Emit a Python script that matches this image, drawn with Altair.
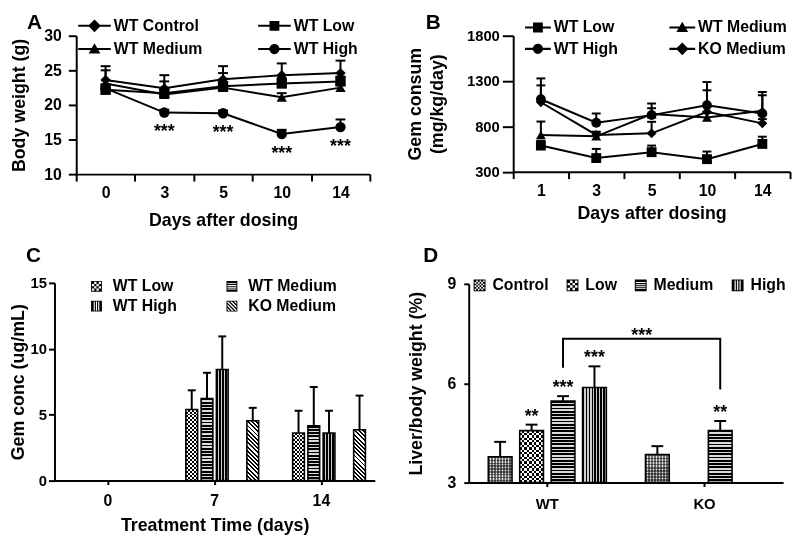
import math
import altair as alt
import pandas as pd

FONT = "Liberation Sans"

# ---------------- Panel A : body weight ----------------
a_days = ["0", "3", "5", "10", "14"]
a_series = ["WT Control", "WT Low", "WT Medium", "WT High"]
a_shapes = ["diamond", "square", "triangle-up", "circle"]
a_control = [23.6, 22.4, 23.7, 24.3, 24.6]
a_control_top = [25.6, 24.3, 25.6, 26.0, 26.4]
a_low = [22.2, 21.7, 22.7, 23.1, 23.4]
a_low_top = [22.9, 22.3, 23.3, 23.9, 24.1]
a_medium = [23.1, 21.5, 22.5, 21.1, 22.5]
a_medium_top = [25.0, 23.4, 24.6, 21.7, 23.0]
a_high = [22.4, 18.9, 18.8, 15.8, 16.8]
a_high_top = [23.0, 19.3, 19.2, 16.4, 17.9]
a_star_days = ["3", "5", "10", "14"]
a_star_at = [18.9, 18.8, 15.8, 16.8]

# ---------------- Panel B : gemfibrozil consumption ----------------
b_days = ["1", "3", "5", "10", "14"]
b_series = ["WT Low", "WT Medium", "WT High", "KO Medium"]
b_shapes = ["square", "triangle-up", "circle", "diamond"]
b_low = [588, 450, 515, 438, 606]
b_low_top = [640, 551, 588, 522, 686]
b_medium = [705, 690, 935, 898, 971]
b_medium_top = [853, 741, 1000, 950, 1143]
b_high = [1099, 840, 924, 1033, 942]
b_high_top = [1329, 942, 1052, 1289, 1179]
b_ko = [1066, 705, 723, 960, 833]
b_ko_top = [1252, 730, 850, 1198, 880]

# ---------------- Panel C : plasma concentration ----------------
c_days = ["0", "7", "14"]
c_series = ["WT Low", "WT Medium", "WT High", "KO Medium"]
c_slots = ["gap-a", "WT Low", "WT Medium", "WT High", "gap-b", "KO Medium"]
c_bar_days = ["7", "7", "7", "7", "14", "14", "14", "14"]
c_bar_series = ["WT Low", "WT Medium", "WT High", "KO Medium"] * 2
c_vals = [5.39, 6.22, 8.43, 4.54, 3.61, 4.16, 3.61, 3.86]
c_errs = [6.85, 8.18, 10.94, 5.52, 5.30, 7.10, 5.30, 6.45]

# ---------------- Panel D : liver / body weight ----------------
d_groups = ["WT", "KO"]
d_series = ["Control", "Low", "Medium", "High"]
d_bar_groups = ["WT", "WT", "WT", "WT", "KO", "KO"]
d_bar_series = ["Control", "Low", "Medium", "High", "Control", "Medium"]
d_vals = [3.78, 4.57, 5.46, 5.87, 3.85, 4.57]
d_errs = [4.23, 4.75, 5.61, 6.51, 4.10, 4.86]
d_star_groups = ["WT", "WT", "WT", "KO"]
d_star_series = ["Low", "Medium", "High", "Medium"]
d_star_text = ["**", "***", "***", "**"]
d_bracket_groups = ["WT", "WT", "KO", "KO"]
d_bracket_y = [6.47, 7.34, 7.34, 5.81]
d_bracket_text = "***"


# ---------------- symbol paths (legend glyphs) ----------------
def rect(x0, y0, x1, y1):
    return f"M{x0:.3f},{y0:.3f}H{x1:.3f}V{y1:.3f}H{x0:.3f}Z"


FT = 0.17


def frame_path():
    return (rect(-1, -1, 1, -1 + FT) + rect(-1, 1 - FT, 1, 1)
            + rect(-1, -1 + FT, -1 + FT, 1 - FT) + rect(1 - FT, -1 + FT, 1, 1 - FT))


def stripe_edges(n_gaps, gap_w):
    lo, hi = -1 + FT, 1 - FT
    L = hi - lo
    cs = [lo + L * (j + 1) / (n_gaps + 1) for j in range(n_gaps)]
    e = [lo]
    for c in cs:
        e += [c - gap_w / 2, c + gap_w / 2]
    e.append(hi)
    return [(e[j], e[j + 1]) for j in range(0, len(e), 2)]


def sym_vstripes():
    lo, hi = -1 + FT, 1 - FT
    return frame_path() + "".join(rect(a, lo, b, hi) for a, b in stripe_edges(3, 0.2))


def sym_hstripes():
    lo, hi = -1 + FT, 1 - FT
    return frame_path() + "".join(rect(lo, a, hi, b) for a, b in stripe_edges(4, 0.16))


def sym_checker(n):
    lo, hi = -1 + FT, 1 - FT
    c = (hi - lo) / n
    p = frame_path()
    for i in range(n):
        for j in range(n):
            if (i + j) % 2 == 0:
                p += rect(lo + i * c, lo + j * c, lo + (i + 1) * c, lo + (j + 1) * c)
    return p


def clip_poly(poly, f):
    out = []
    for idx in range(len(poly)):
        p, q = poly[idx], poly[(idx + 1) % len(poly)]
        fp, fq = f(p), f(q)
        if fp >= 0:
            out.append(p)
        if (fp >= 0) != (fq >= 0):
            t = fp / (fp - fq)
            out.append((p[0] + t * (q[0] - p[0]), p[1] + t * (q[1] - p[1])))
    return out


def sym_diag(nb=5, frac=0.5):
    s = 1 - FT
    sq = [(-s, -s), (s, -s), (s, s), (-s, s)]
    P = 4 * s / nb
    p = frame_path()
    for j in range(nb + 1):
        c0 = -2 * s + j * P - P * frac / 2
        c1 = c0 + P * frac
        poly = clip_poly(sq, lambda q, c0=c0: (q[0] - q[1]) - c0)
        poly = clip_poly(poly, lambda q, c1=c1: c1 - (q[0] - q[1]))
        if len(poly) >= 3:
            p += "M" + "L".join(f"{x:.3f},{y:.3f}" for x, y in poly) + "Z"
    return p


def sym_line(marker, half):
    t = 0.13
    p = rect(-half, -t, half, t)
    r = {"diamond": 0.8, "square": 0.62, "triangle-up": 0.74, "circle": 0.64}[marker]
    if marker == "diamond":
        p += f"M0,{-r}L{r},0L0,{r}L{-r},0Z"
    elif marker == "square":
        p += rect(-r, -r, r, r)
    elif marker == "triangle-up":
        p += f"M0,{-r}L{r},{r * 0.75}L{-r},{r * 0.75}Z"
    else:
        p += f"M{-r},0A{r},{r} 0 1,1 {r},0A{r},{r} 0 1,1 {-r},0Z"
    return p


# ---------------- gradient fills (bar textures) ----------------
def stripe_grad(n, frac, c1, c2, horizontal_lines):
    n = max(1, int(round(n)))
    stops = []
    for i in range(n):
        a, b, c = i / n, (i + frac) / n, (i + 1) / n
        stops += [{"offset": round(a, 5), "color": c1}, {"offset": round(b, 5), "color": c1},
                  {"offset": round(b, 5), "color": c2}, {"offset": round(c, 5), "color": c2}]
    if horizontal_lines:
        return {"gradient": "linear", "x1": 0, "y1": 0, "x2": 0, "y2": 1, "stops": stops}
    return {"gradient": "linear", "x1": 0, "y1": 0, "x2": 1, "y2": 0, "stops": stops}


def diag_grad(w, h, period, frac, c1, c2):
    k = (w + h) / (w * w + h * h)
    g = stripe_grad((w + h) / math.sqrt(2) / period, frac, c1, c2, True)
    g.update({"x1": 0, "y1": 1, "x2": round(k * w, 4), "y2": round(1 - k * h, 4)})
    return g


def df_series(days, series, means, tops):
    rows = []
    for s, m, t in zip(series, means, tops):
        for i, d in enumerate(days):
            rows.append({"day": d, "i": i, "series": s, "v": m[i], "top": t[i]})
    return pd.DataFrame(rows)


def legend_layer(series, paths, legend):
    return (alt.Chart(pd.DataFrame({"series": series}))
            .transform_filter("false")
            .mark_point(filled=True, color="black", opacity=1)
            .encode(shape=alt.Shape("series:N", scale=alt.Scale(domain=series, range=paths), legend=legend)))


def line_panel(df, days, series, shapes, legend_paths, legend, width, height, ydomain,
               xaxis, yaxis, title, msize, cap, x_range=None, extra=None):
    sc = dict(type="band", domain=days, paddingInner=0, paddingOuter=0)
    if x_range is not None:
        sc["range"] = x_range
    xenc = alt.X("day:N", scale=alt.Scale(**sc), axis=xaxis)

    def yenc(f):
        return alt.Y(f"{f}:Q", scale=alt.Scale(domain=ydomain, nice=False, zero=False), axis=yaxis)

    base = alt.Chart(df)
    lines = base.mark_line(color="black", strokeWidth=2).encode(
        x=xenc, y=yenc("v"), detail="series:N", order=alt.Order("i:Q"))
    rules = base.mark_rule(color="black", strokeWidth=2).encode(x=xenc, y=yenc("v"), y2="top:Q")
    caps = base.mark_tick(color="black", thickness=2, size=cap, opacity=1).encode(x=xenc, y=yenc("top"))
    pts = base.mark_point(filled=True, color="black", opacity=1, size=msize).encode(
        x=xenc, y=yenc("v"),
        shape=alt.Shape("series:N", scale=alt.Scale(domain=series, range=shapes), legend=None))
    layers = [lines, rules, caps, pts]
    if extra is not None:
        layers += extra(xenc, yenc)
    layers.append(legend_layer(series, legend_paths, legend))
    return alt.layer(*layers).resolve_scale(shape="independent").properties(
        width=width, height=height, title=title)


def bar_panel(df, groups, slots, series, kinds, legend_paths, legend, width, height, ydomain,
              xaxis, yaxis, pi, title, cap, cell, extra=None):
    m = len(slots)
    fine = []
    for gi, g in enumerate(groups):
        if gi > 0:
            fine.append(f"sep{gi}")
        fine += [f"{g}|{s}" for s in slots]
    po = (1 + pi) / 2
    step = width / len(groups) / (m + 1)
    bw = step * (1 - pi)
    ppu = height / (ydomain[1] - ydomain[0])
    df = df.assign(slot=df["g"] + "|" + df["s"])
    xf = alt.X("slot:N", scale=alt.Scale(type="band", domain=fine, paddingInner=pi, paddingOuter=po),
               axis=None)

    def xg(**kw):
        return alt.X("g:N", scale=alt.Scale(type="band", domain=groups, paddingInner=0, paddingOuter=0), **kw)

    def yenc(f):
        return alt.Y(f"{f}:Q", scale=alt.Scale(domain=ydomain, nice=False, zero=False), axis=yaxis)

    y2 = alt.Y2Datum(ydomain[0])
    layers = [alt.Chart(pd.DataFrame({"g": groups})).transform_filter("false")
              .mark_point(opacity=0).encode(x=xg(axis=xaxis))]
    for _, row in df.iterrows():
        kind = kinds[row["s"]]
        h = (row["v"] - ydomain[0]) * ppu
        sel = alt.Chart(df).transform_filter(alt.datum.k == int(row["k"]))
        enc = dict(x=xf, y=yenc("v"), y2=y2)
        over = None
        blend = "normal"
        if kind == "h":
            fill = stripe_grad(h / 3.3, 0.55, "#000000", "#dadada", True)
        elif kind == "v":
            fill = stripe_grad(bw / 3.0, 0.6, "#000000", "#cfcfcf", False)
        elif kind == "d":
            fill = diag_grad(bw, h, 3.0, 0.45, "#000000", "#ffffff")
        elif kind == "c":
            fill = stripe_grad(h / (2 * cell), 0.5, "#000000", "#ffffff", True)
            over = stripe_grad(bw / (2 * cell), 0.5, "#ffffff", "rgba(255,255,255,0)", False)
            blend = "difference"
        else:
            fill = stripe_grad(h / 3.0, 0.5, "#7a7a7a", "#e6e6e6", True)
            over = stripe_grad(bw / 3.0, 0.5, "#7a7a7a", "#ffffff", False)
            blend = "multiply"
        layers.append(sel.mark_bar(fill=fill, strokeWidth=0, opacity=1).encode(**enc))
        if over is not None:
            layers.append(sel.mark_bar(fill=over, strokeWidth=0, opacity=1, blend=blend).encode(**enc))
    base = alt.Chart(df)
    layers.append(base.mark_bar(fillOpacity=0, stroke="black", strokeWidth=1.6, opacity=1).encode(
        x=xf, y=yenc("v"), y2=y2))
    layers.append(base.mark_rule(color="black", strokeWidth=2).encode(x=xf, y=yenc("v"), y2="e:Q"))
    layers.append(base.mark_tick(color="black", thickness=2, size=cap, opacity=1).encode(
        x=xf, y=yenc("e")))
    if extra is not None:
        layers += extra(xf, xg, yenc)
    layers.append(legend_layer(series, legend_paths, legend))
    return alt.layer(*layers).resolve_scale(shape="independent", x="independent").properties(
        width=width, height=height, title=title)


def letter(t, dx, offset):
    return alt.TitleParams(text=t, anchor="start", frame="bounds", fontSize=21, fontWeight="bold",
                           font=FONT, color="black", dx=dx, offset=offset)


def mk_legend(**kw):
    base = dict(title=None, orient="none", direction="horizontal", symbolFillColor="black",
                symbolStrokeWidth=0, symbolOpacity=1, labelFontSize=16, labelFont=FONT,
                labelFontWeight="bold", labelColor="black", padding=0)
    base.update(kw)
    return alt.Legend(**base)


# ---------------- Panel A ----------------
A_SHIFT = 22
dfA = df_series(a_days, a_series, [a_control, a_low, a_medium, a_high],
                [a_control_top, a_low_top, a_medium_top, a_high_top])
dfA_stars = pd.DataFrame({"day": a_star_days, "v": a_star_at})


def a_extra(xenc, yenc):
    return [alt.Chart(dfA_stars).mark_text(text="***", fontSize=18, fontWeight="bold", font=FONT,
                                           baseline="alphabetic", dy=25, color="black")
            .encode(x=xenc, y=yenc("v"))]


pA = line_panel(
    dfA, a_days, a_series, a_shapes, [sym_line(s, 2.06) for s in a_shapes],
    mk_legend(legendX=10.5 + A_SHIFT, legendY=-18, columns=2, columnPadding=55, rowPadding=7.5,
              symbolSize=256, labelOffset=11.5),
    297 + A_SHIFT, 140, [10, 30],
    alt.Axis(title="Days after dosing", tickBand="extent", labelAngle=0, tickSize=7, labelPadding=4,
             labelFontSize=16, titleFontSize=18, titlePadding=11),
    alt.Axis(title="Body weight (g)", values=[10, 15, 20, 25, 30], tickSize=8, labelPadding=7,
             labelFontSize=16, titleFontSize=18, titlePadding=16, offset=-A_SHIFT),
    letter("A", 17, -15), 110, 10, x_range=[A_SHIFT, 297 + A_SHIFT], extra=a_extra)

# ---------------- Panel B ----------------
dfB = df_series(b_days, b_series, [b_low, b_medium, b_high, b_ko],
                [b_low_top, b_medium_top, b_high_top, b_ko_top])
pB = line_panel(
    dfB, b_days, b_series, b_shapes, [sym_line(s, 1.63) for s in b_shapes],
    mk_legend(legendX=17, legendY=-16.3, columns=2, columnPadding=51, rowPadding=5.6,
              symbolSize=256, labelOffset=8),
    280, 137.5, [300, 1800],
    alt.Axis(title="Days after dosing", tickBand="extent", labelAngle=0, tickSize=7, labelPadding=4,
             labelFontSize=16, titleFontSize=18, titlePadding=6),
    alt.Axis(title=["Gem consum", "(mg/kg/day)"], values=[300, 800, 1300, 1800], format="d",
             tickSize=11, labelPadding=3, labelFontSize=15, titleFontSize=18, titleLineHeight=22,
             titlePadding=20),
    letter("B", 19, -13.3), 100, 9)

# ---------------- Panel C ----------------
dfC = pd.DataFrame({"g": c_bar_days, "s": c_bar_series, "v": c_vals, "e": c_errs})
dfC["k"] = range(len(dfC))
c_kinds = {"WT Low": "c", "WT Medium": "h", "WT High": "v", "KO Medium": "d"}
pC = bar_panel(
    dfC, c_days, c_slots, c_series, c_kinds,
    [sym_checker(4), sym_hstripes(), sym_vstripes(), sym_diag(5)],
    mk_legend(legendX=34.5, legendY=-4.5, columns=2, columnPadding=47, rowPadding=4,
              symbolSize=121, labelOffset=8.5),
    324, 200, [0, 15],
    alt.Axis(title="Treatment Time (days)", labelAngle=0, tickSize=4, labelPadding=8,
             labelFontSize=16, titleFontSize=18, titlePadding=8, orient="bottom"),
    alt.Axis(title="Gem conc (ug/mL)", values=[0, 5, 10, 15], tickSize=6, labelPadding=2,
             labelFontSize=15, titleFontSize=18, titlePadding=3),
    0.23, letter("C", 17, 10), 8, 2.0)

# ---------------- Panel D ----------------
dfD = pd.DataFrame({"g": d_bar_groups, "s": d_bar_series, "v": d_vals, "e": d_errs})
dfD["k"] = range(len(dfD))
d_err_of = {(g, s): e for g, s, e in zip(d_bar_groups, d_bar_series, d_errs)}
dfD_stars = pd.DataFrame({"g": d_star_groups, "s": d_star_series, "t": d_star_text,
                          "e": [d_err_of[(g, s)] for g, s in zip(d_star_groups, d_star_series)]})
dfD_stars["slot"] = dfD_stars["g"] + "|" + dfD_stars["s"]
dfD_br = pd.DataFrame({"g": d_bracket_groups, "s": ["Medium"] * 4, "v": d_bracket_y,
                       "o": list(range(len(d_bracket_y)))})
dfD_br["slot"] = dfD_br["g"] + "|" + dfD_br["s"]
dfD_brt = pd.DataFrame({"g": ["KO"], "v": [max(d_bracket_y)], "t": [d_bracket_text]})


def d_extra(xf, xg, yenc):
    stars = alt.Chart(dfD_stars).mark_text(fontSize=18, fontWeight="bold", font=FONT,
                                           baseline="alphabetic", dy=-3, color="black").encode(
        x=xf, y=yenc("e"), text="t:N")
    br = alt.Chart(dfD_br).mark_line(color="black", strokeWidth=2).encode(
        x=xf, y=yenc("v"), order=alt.Order("o:Q"))
    brt = alt.Chart(dfD_brt).mark_text(fontSize=18, fontWeight="bold", font=FONT,
                                       baseline="alphabetic", dy=2, dx=16, color="black").encode(
        x=xg(axis=None, bandPosition=0), y=yenc("v"), text="t:N")
    return [br, stars, brt]


d_kinds = {"Control": "g", "Low": "c", "Medium": "h", "High": "v"}
pD = bar_panel(
    dfD, d_groups, d_series, d_series, d_kinds,
    [sym_checker(6), sym_checker(4), sym_hstripes(), sym_vstripes()],
    mk_legend(legendX=3, legendY=-6.5, columns=4, columnPadding=16,
              symbolSize=144, labelOffset=5),
    318, 201, [3, 9],
    alt.Axis(title=None, labelAngle=0, tickSize=4, labelPadding=10, labelFontSize=15, orient="bottom"),
    alt.Axis(title="Liver/body weight (%)", values=[3, 6, 9], tickSize=5, labelPadding=8,
             labelFontSize=16, titleFontSize=18, titlePadding=22),
    0.245, letter("D", 16, 10), 12, 2.4, d_extra)

chart = alt.concat(
    pA, pB, pC, pD, columns=2, align="none", spacing={"row": 14, "column": 31},
).properties(padding=0).configure(font=FONT).configure_axis(
    domainColor="black", domainWidth=2, tickColor="black", tickWidth=2,
    labelColor="black", titleColor="black", labelFontWeight="bold", titleFontWeight="bold",
    labelFont=FONT, titleFont=FONT, grid=False
).configure_view(stroke="transparent")

chart.save("out.html", embed_options={"renderer": "svg", "actions": False})
